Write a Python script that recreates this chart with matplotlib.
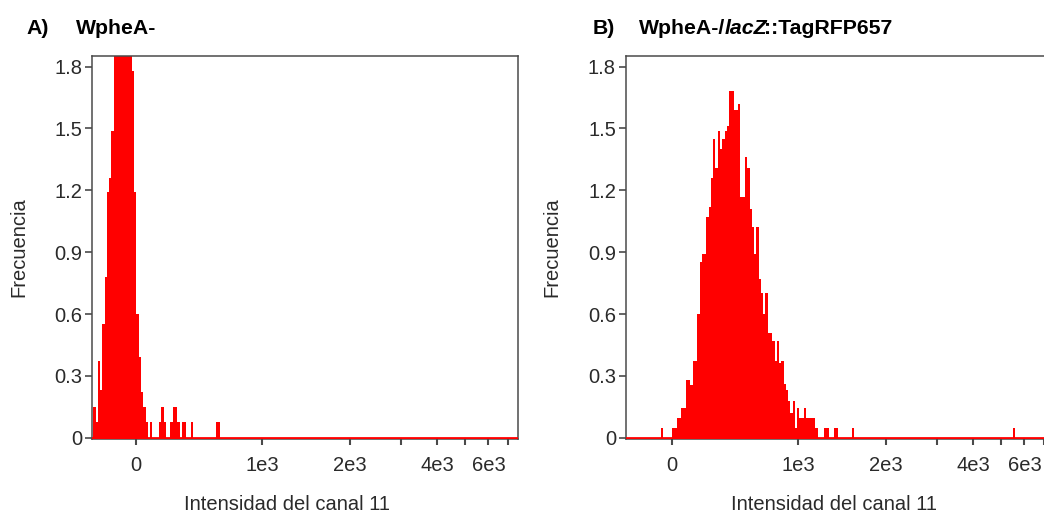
import numpy as np
import matplotlib
matplotlib.use("Agg")
import matplotlib.pyplot as plt

plt.rcParams['font.family'] = ['Liberation Sans', 'DejaVu Sans']

# ---------------- data ----------------
# histogram bin width (in transformed intensity units, equal width on the display scale)
BIN_W = 18.0

# Panel A: WpheA-  (left edge of first bin, then frequencies of consecutive bins)
A_first_bin = -340
A_freq = [0.15, 0.074, 0.37, 0.23, 0.55, 0.78, 1.19, 1.26, 1.49, 1.95,
          2.2, 2.4, 2.5, 2.45, 2.35, 2.2, 2.0, 1.78, 1.19, 0.6,
          0.39, 0.22, 0.15, 0.074, 0, 0.074, 0, 0, 0, 0.074,
          0.15, 0.074, 0, 0, 0.074, 0.15, 0.15, 0.074, 0, 0.074,
          0.074, 0, 0, 0.074, 0, 0, 0, 0, 0, 0,
          0, 0, 0, 0, 0.074, 0.074]

# Panel B: WpheA-/lacZ::TagRFP657
B_first_bin = -88
B_freq = [0.048, 0, 0, 0, 0, 0.048, 0.048, 0.094, 0.094, 0.143,
          0.143, 0.28, 0.28, 0.255, 0.37, 0.37, 0.60, 0.85, 0.89, 0.89,
          1.07, 1.12, 1.26, 1.45, 1.31, 1.49, 1.40, 1.45, 1.49, 1.51,
          1.68, 1.68, 1.59, 1.59, 1.62, 1.17, 1.17, 1.36, 1.31, 1.11,
          1.02, 0.89, 1.02, 0.77, 0.70, 0.60, 0.70, 0.51, 0.51, 0.47,
          0.37, 0.47, 0.36, 0.37, 0.26, 0.23, 0.18, 0.12, 0.18, 0.048,
          0.143, 0.094, 0.094, 0.143, 0.094, 0.094, 0.094, 0.094, 0.048, 0,
          0, 0, 0.048, 0.048, 0, 0, 0.048, 0.048, 0, 0,
          0, 0, 0, 0, 0.048]
B_extra_intensity = [5530]
B_extra_freq = [0.048]

x_ticks = [0, 1000, 2000, 3000, 4000, 5000, 6000, 7000]
x_ticklabels = ['0', '1e3', '2e3', '', '4e3', '', '6e3', '']
y_ticks = [0, 0.3, 0.6, 0.9, 1.2, 1.5, 1.8]
y_ticklabels = ['0', '0.3', '0.6', '0.9', '1.2', '1.5', '1.8']

# ---------------- scale (linear near zero, log above) ----------------
T = 1000.0


def fwd(x):
    x = np.asarray(x, dtype=float)
    a = np.abs(x)
    return np.where(a <= T, x, np.sign(x) * T * (1 + np.log(np.maximum(a, T) / T)))


def inv(y):
    y = np.asarray(y, dtype=float)
    a = np.abs(y)
    return np.where(a <= T, y, np.sign(y) * T * np.exp(np.maximum(a, T) / T - 1))


RED = '#ff0000'
GREY = '#4a4a4a'
TXT = '#2a2a2a'
FS = 14.5
FS_T = 15.3

W, H = 1044, 517
fig = plt.figure(figsize=(W / 100, H / 100), dpi=100)
ax_bottom = (H - 439) / H
ax_height = (439 - 55.7) / H
axA = fig.add_axes([92 / W, ax_bottom, 426 / W, ax_height])
axB = fig.add_axes([625.7 / W, ax_bottom, 426 / W, ax_height])


def draw_hist(ax, first_bin, freq):
    n = len(freq)
    edges_t = fwd(first_bin) + BIN_W * np.arange(n + 1)
    ax.stairs(freq, inv(edges_t), fill=True, color=RED, lw=0)


def style(ax, xlim, xlabel_x):
    ax.set_xscale('function', functions=(fwd, inv))
    ax.set_xlim(*xlim)
    ax.set_ylim(-0.0063, 1.853)
    ax.axhline(0, color=RED, lw=2, zorder=3)
    ax.set_xticks(x_ticks)
    ax.set_xticklabels(x_ticklabels)
    ax.xaxis.set_minor_locator(matplotlib.ticker.NullLocator())
    ax.set_yticks(y_ticks)
    ax.set_yticklabels(y_ticklabels)
    ax.tick_params(axis='x', direction='out', length=4.5, width=1.5, color=GREY,
                   labelsize=FS, labelcolor=TXT, pad=8)
    ax.tick_params(axis='y', direction='out', length=5, width=1.2, color=GREY,
                   labelsize=FS, labelcolor=TXT, pad=2)
    for s in ax.spines.values():
        s.set_color(GREY)
        s.set_linewidth(1.1)
    ax.set_ylabel('Frecuencia', fontsize=FS, color=TXT)
    ax.yaxis.set_label_coords(-0.15, 0.5)
    ax.set_xlabel('Intensidad del canal 11', fontsize=FS, color=TXT)
    ax.xaxis.set_label_coords(xlabel_x, -0.145)


draw_hist(axA, A_first_bin, A_freq)
style(axA, (-350, 7580), 0.457)

draw_hist(axB, B_first_bin, B_freq)
for xi, fi in zip(B_extra_intensity, B_extra_freq):
    c = fwd(xi)
    axB.stairs([fi], inv([c - BIN_W / 2, c + BIN_W / 2]), fill=True, color=RED, lw=0)
style(axB, (-367, 7450), 0.489)

# titles
ty = 1 - 34 / H
fig.text(26 / W, ty, 'A)', fontsize=FS_T, fontweight='bold', va='baseline')
fig.text(76 / W, ty, 'WpheA-', fontsize=FS_T, fontweight='bold', va='baseline')
fig.text(593 / W, ty, 'B)', fontsize=FS_T, fontweight='bold', va='baseline')
t1 = fig.text(639 / W, ty, 'WpheA-/', fontsize=FS_T, fontweight='bold', va='baseline')
t2 = fig.text(0, 0, 'lacZ', fontsize=FS_T, fontweight='bold', style='italic')
t3 = fig.text(0, 0, '::TagRFP657', fontsize=FS_T, fontweight='bold')
fig.canvas.draw()
r = fig.canvas.get_renderer()
x1 = t1.get_window_extent(r).x1
t2.set_position(((x1 - 1) / W, ty))
t2.set_va('baseline')
fig.canvas.draw()
x2 = t2.get_window_extent(r).x1
t3.set_position(((x2 - 3) / W, ty))
t3.set_va('baseline')

fig.savefig('out.png', dpi=100)
